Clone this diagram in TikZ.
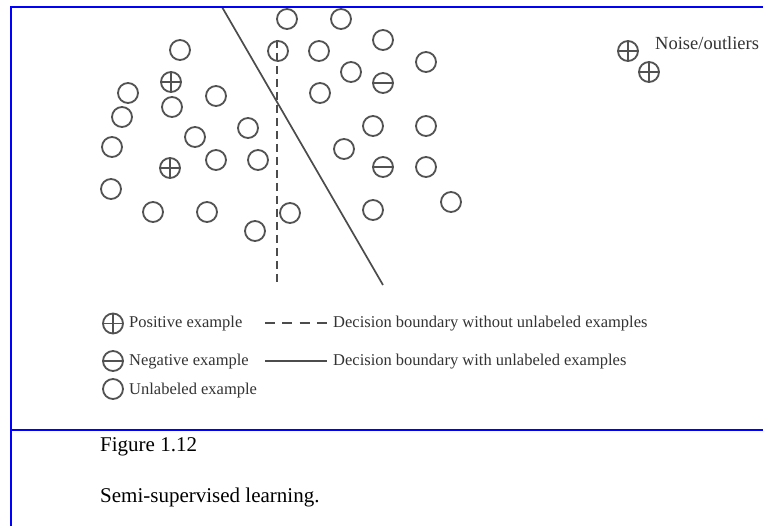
\documentclass[tikz,border=0pt]{standalone}
\usepackage{fontspec}
\setmainfont{Liberation Serif}
\begin{document}
\begin{tikzpicture}[x=1pt,y=-1pt,
  markbase/.style={circle,draw=black!68,line width=1.8pt,minimum size=20pt,inner sep=0pt,outer sep=0pt},
  unlmark/.style={markbase},
  posmark/.style={markbase,path picture={
      \draw[black!68,line width=1.4pt] (path picture bounding box.north) -- (path picture bounding box.south)
        (path picture bounding box.west) -- (path picture bounding box.east);}},
  negmark/.style={markbase,path picture={
      \draw[black!68,line width=1.4pt] (path picture bounding box.west) -- (path picture bounding box.east);}},
  legtext/.style={anchor=base west,inner sep=0pt,text=black!80,font=\fontsize{16.5}{19}\selectfont},
  captext/.style={anchor=base west,inner sep=0pt,font=\fontsize{21}{25}\selectfont},
  frame/.style={draw=blue,line width=2.8pt},
  boundary/.style={black!70,line width=1.7pt},
  noboundary/.style={black!70,line width=1.7pt,dash pattern=on 8pt off 5pt},
]
\useasboundingbox (0,0) rectangle (763,526);
\fill[white] (0,0) rectangle (763,526);

% decision boundaries
\coordinate (sA) at (222,7);
\coordinate (sB) at (383,285);
\coordinate (dA) at (277,40);
\coordinate (dB) at (277,283);
\draw[boundary] (sA) -- (sB);
\draw[noboundary] (dA) -- (dB);

% unlabeled examples
\foreach \n/\x/\y in {u1/180/50, u2/128/93, u3/172/107, u4/216/96, u5/122/117,
  u6/112/147, u7/195/137, u8/248/128, u9/216/160, u10/258/160, u11/111/189,
  u12/153/212, u13/207/212, u14/255/231, u15/290/213, u16/287/19, u17/341/19,
  u18/383/40, u19/278/51, u20/319/51, u21/426/62, u22/351/72, u23/320/93,
  u24/373/126, u25/426/126, u26/344/149, u27/426/167, u28/451/202, u29/373/210}
  \node[unlmark] (\n) at (\x,\y) {};

% labeled examples
\node[posmark] (p1) at (171,82) {};
\node[posmark] (p2) at (170,168) {};
\node[negmark] (n1) at (383,83) {};
\node[negmark] (n2) at (383,167) {};

% noise / outliers
\node[posmark] (o1) at (628,51) {};
\node[posmark] (o2) at (649,72) {};
\node[legtext,font=\fontsize{18.5}{21}\selectfont] (otext) at (655,50) {Noise/outliers};

% legend
\node[posmark] (lp) at (113,323.5) {};
\node[negmark] (ln) at (113,361) {};
\node[unlmark] (lu) at (113,389) {};
\node[legtext] (lpt) at (129,328) {Positive example};
\node[legtext] (lnt) at (129,366) {Negative example};
\node[legtext] (lut) at (129,394.5) {Unlabeled example};
\coordinate (ldA) at (265,323);
\coordinate (ldB) at (327,323);
\coordinate (lsA) at (265,361);
\coordinate (lsB) at (327,361);
\draw[black!70,line width=1.7pt,dash pattern=on 10pt off 7.3pt] (ldA) -- (ldB);
\draw[boundary] (lsA) -- (lsB);
\node[legtext] (ldt) at (333,327.5) {Decision boundary without unlabeled examples};
\node[legtext] (lst) at (333,365.5) {Decision boundary with unlabeled examples};

% frame
\coordinate (fTL) at (11,7);
\coordinate (fTR) at (763,7);
\coordinate (fBL) at (11,526);
\coordinate (fML) at (11,430);
\coordinate (fMR) at (763,430);
\draw[frame] (fTR) -- (fTL) -- (fBL);
\draw[frame] (fML) -- (fMR);

% caption
\node[captext] (cap1) at (100,451) {Figure 1.12};
\node[captext] (cap2) at (100,502) {Semi-supervised learning.};
\end{tikzpicture}
\end{document}
